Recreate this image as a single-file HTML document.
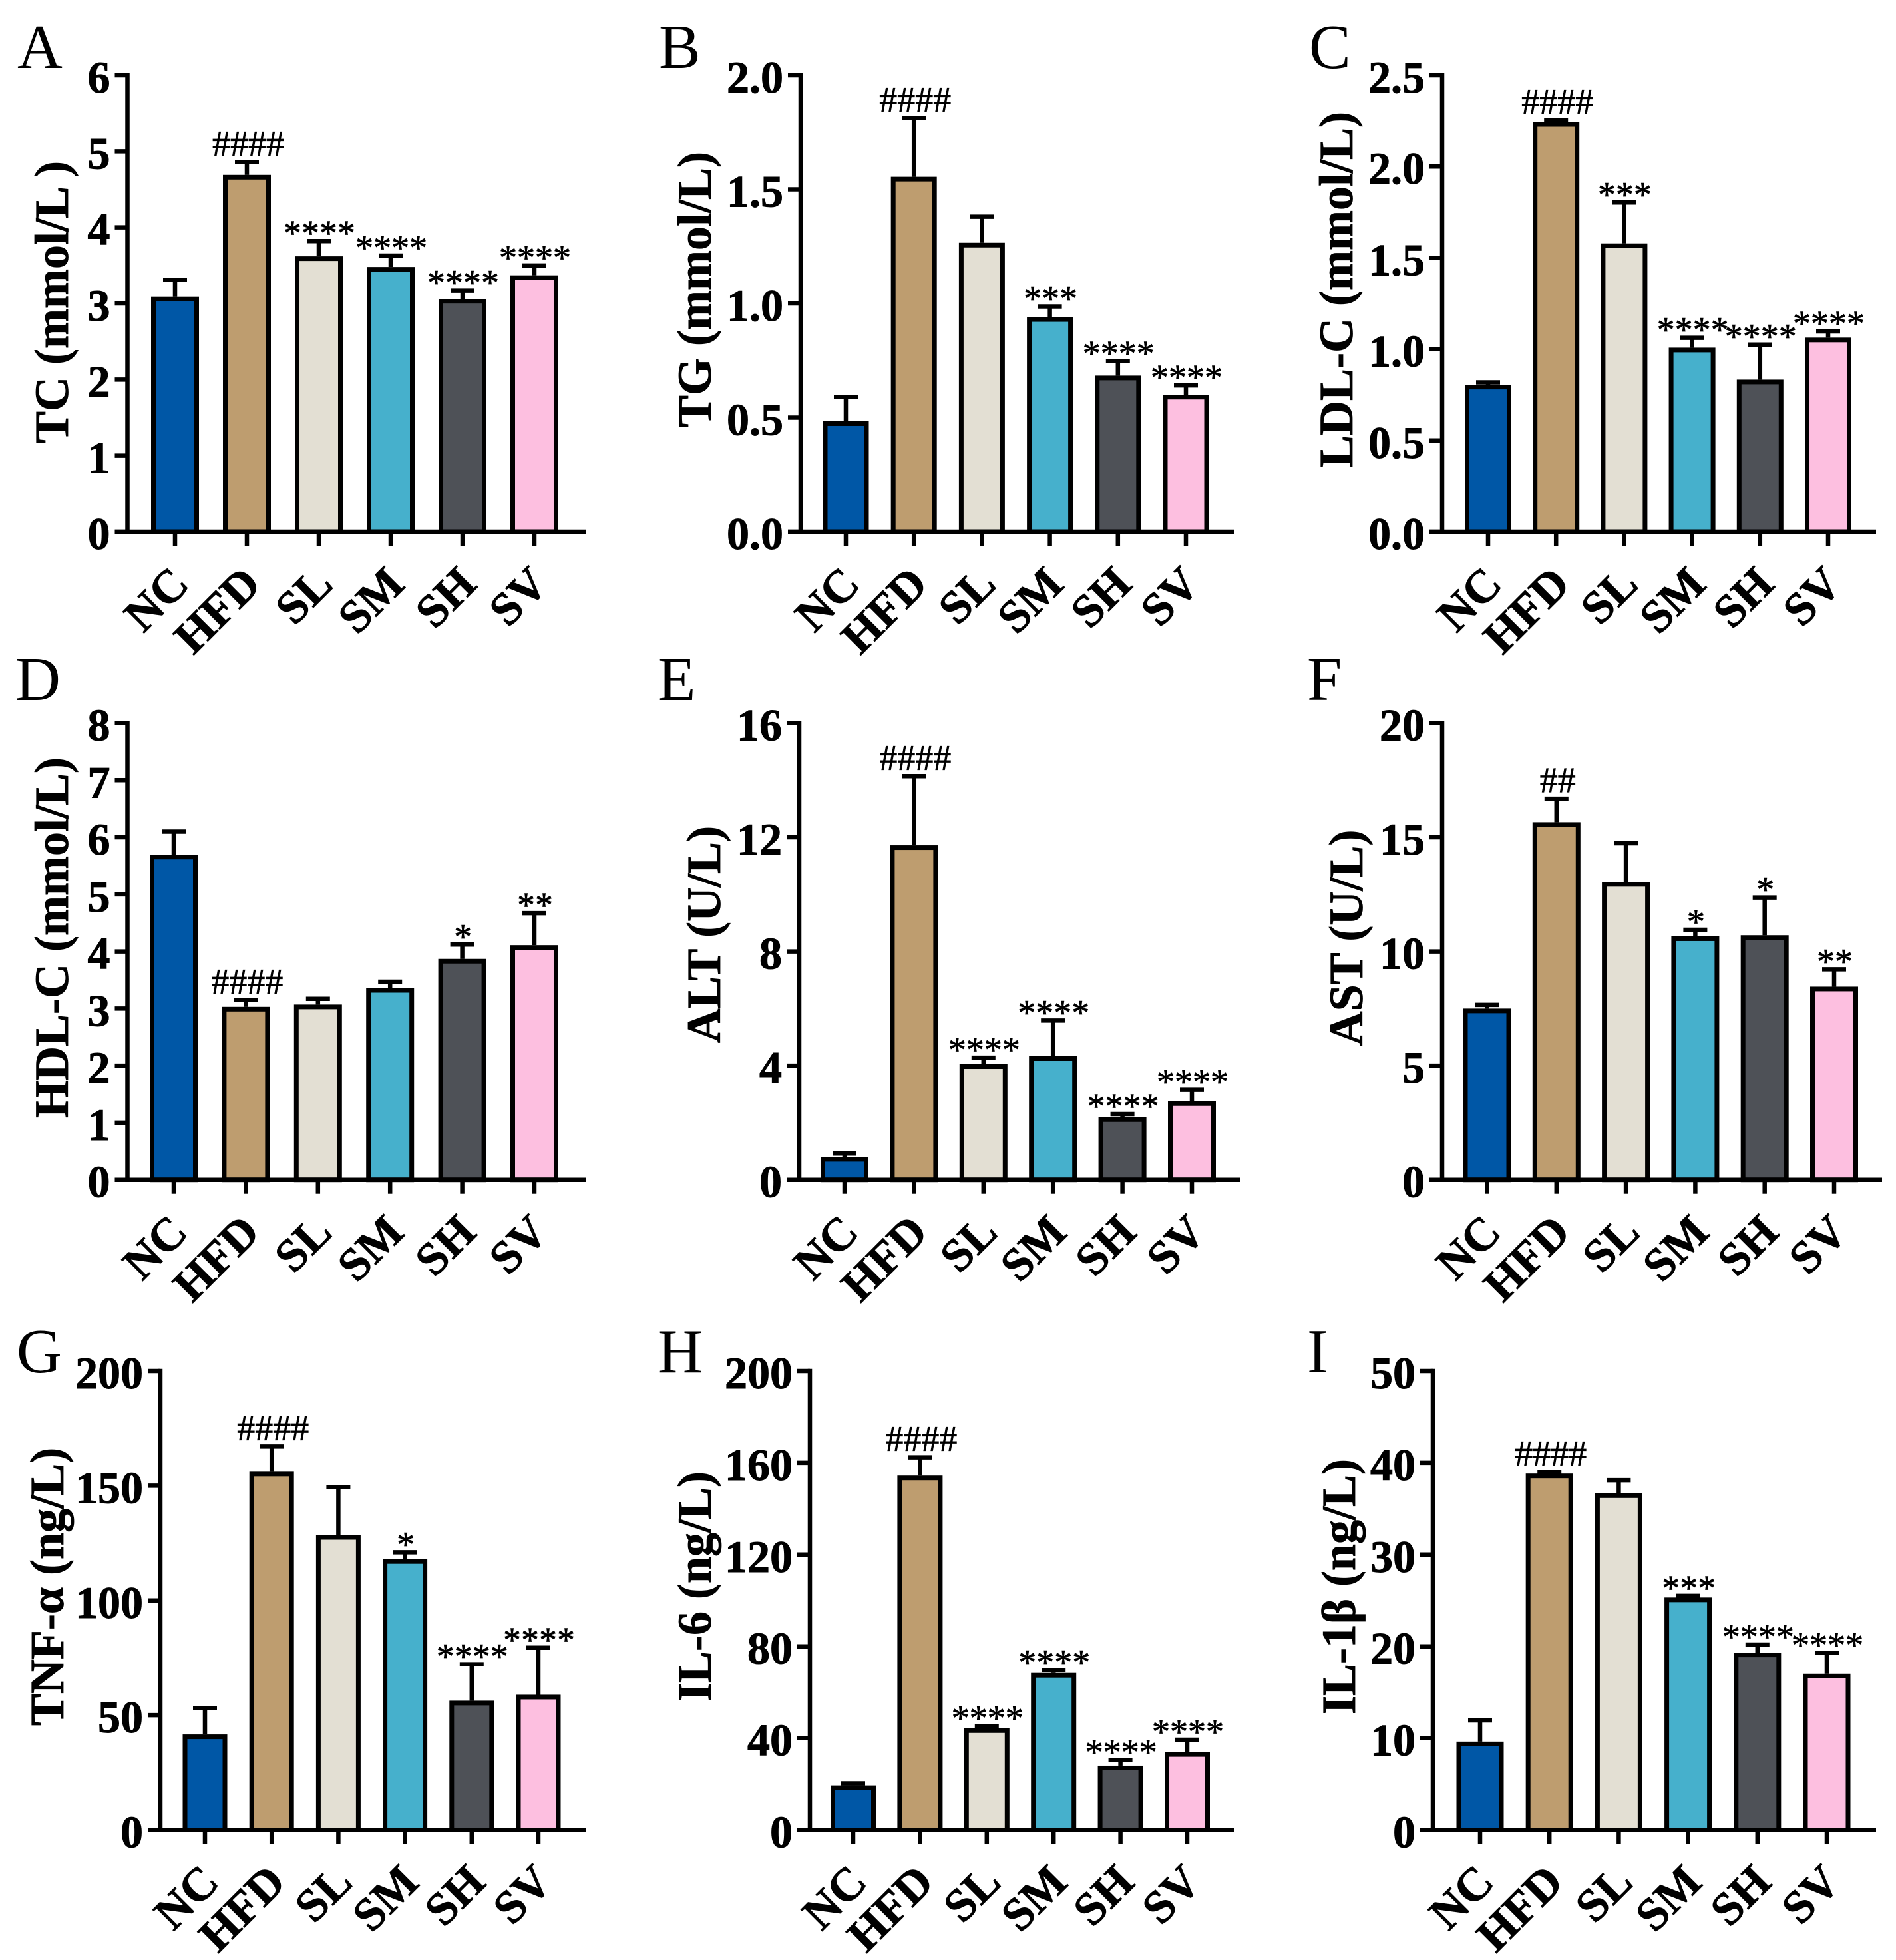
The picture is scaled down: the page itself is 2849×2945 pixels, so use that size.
<!DOCTYPE html>
<html lang="en">
<head>
<meta charset="utf-8">
<title>Serum lipid, liver enzyme and cytokine bar charts</title>
<style>
html,body{margin:0;padding:0;background:#fff;}
svg{display:block;font-family:"Liberation Serif",serif;}
</style>
</head>
<body>
<svg id="figure" xmlns="http://www.w3.org/2000/svg" width="2849" height="2945" viewBox="0 0 2849 2945"></svg>
<script>
const categories = ["NC", "HFD", "SL", "SM", "SH", "SV"];
const barColors = ["#0057A6", "#BE9D6F", "#E3DFD3", "#46B0CC", "#4E5157", "#FDBFE0"];

const tcTicks = ["0", "1", "2", "3", "4", "5", "6"];
const tcValues = [3.09, 4.69, 3.62, 3.48, 3.06, 3.37];
const tcUpper = [3.31, 4.86, 3.82, 3.63, 3.17, 3.50];
const tcMarks = ["", "####", "****", "****", "****", "****"];

const tgTicks = ["0.0", "0.5", "1.0", "1.5", "2.0"];
const tgValues = [0.484, 1.555, 1.266, 0.94, 0.684, 0.6];
const tgUpper = [0.59, 1.812, 1.38, 0.987, 0.747, 0.641];
const tgMarks = ["", "####", "", "***", "****", "****"];

const ldlTicks = ["0.0", "0.5", "1.0", "1.5", "2.0", "2.5"];
const ldlValues = [0.805, 2.243, 1.579, 1.008, 0.833, 1.063];
const ldlUpper = [0.818, 2.254, 1.803, 1.062, 1.025, 1.097];
const ldlMarks = ["", "####", "***", "****", "****", "****"];

const hdlTicks = ["0", "1", "2", "3", "4", "5", "6", "7", "8"];
const hdlValues = [5.695, 3.03, 3.07, 3.36, 3.87, 4.11];
const hdlUpper = [6.10, 3.15, 3.17, 3.47, 4.12, 4.67];
const hdlMarks = ["", "####", "", "", "*", "**"];

const altTicks = ["0", "4", "8", "12", "16"];
const altValues = [0.8, 11.72, 4.05, 4.33, 2.19, 2.75];
const altUpper = [0.92, 14.14, 4.28, 5.58, 2.30, 3.15];
const altMarks = ["", "####", "****", "****", "****", "****"];

const astTicks = ["0", "5", "10", "15", "20"];
const astValues = [7.5, 15.66, 13.04, 10.66, 10.71, 8.46];
const astUpper = [7.66, 16.69, 14.74, 10.95, 12.36, 9.22];
const astMarks = ["", "##", "", "*", "*", "**"];

const tnfTicks = ["0", "50", "100", "150", "200"];
const tnfValues = [41.6, 156.1, 128.5, 118, 56.3, 58.9];
const tnfUpper = [53.1, 167.1, 149.3, 121, 72.2, 79.4];
const tnfMarks = ["", "####", "", "*", "****", "****"];

const il6Ticks = ["0", "40", "80", "120", "160", "200"];
const il6Values = [19.4, 154.4, 44.3, 68.4, 28, 33.9];
const il6Upper = [20.3, 162.4, 45.3, 69.6, 30.4, 39.3];
const il6Marks = ["", "####", "****", "****", "****", "****"];

const il1Ticks = ["0", "10", "20", "30", "40", "50"];
const il1Values = [9.62, 38.82, 36.67, 25.32, 19.32, 17.02];
const il1Upper = [11.93, 39.0, 38.1, 25.5, 20.2, 19.3];
const il1Marks = ["", "####", "", "***", "****", "****"];

const panels = [
  {id:"a", letter:"A", lx:26, ly:102, title:"TC (mmol/L )", tx:102, ty:454, x0:191.5, xEnd:880, first:263, step:108, w:72, top:113, base:799, ticks:tcTicks, values:tcValues, upper:tcUpper, marks:tcMarks},
  {id:"b", letter:"B", lx:990, ly:102, title:"TG (mmol/L)", tx:1068, ty:435, x0:1203, xEnd:1854, first:1271, step:102.2, w:69, top:113, base:799, ticks:tgTicks, values:tgValues, upper:tgUpper, marks:tgMarks},
  {id:"c", letter:"C", lx:1967, ly:102, title:"LDL-C (mmol/L)", tx:2032, ty:435, x0:2167, xEnd:2819, first:2236, step:102.2, w:70, top:113, base:799, ticks:ldlTicks, values:ldlValues, upper:ldlUpper, marks:ldlMarks},
  {id:"d", letter:"D", lx:23, ly:1052, title:"HDL-C (mmol/L)", tx:102, ty:1409, x0:191.5, xEnd:880, first:261, step:108.4, w:72, top:1086.5, base:1772.7, ticks:hdlTicks, values:hdlValues, upper:hdlUpper, marks:hdlMarks},
  {id:"e", letter:"E", lx:988, ly:1052, title:"ALT (U/L)", tx:1082, ty:1404, x0:1201, xEnd:1864, first:1269, step:104.4, w:72, top:1086.5, base:1772.7, ticks:altTicks, values:altValues, upper:altUpper, marks:altMarks},
  {id:"f", letter:"F", lx:1964, ly:1052, title:"AST (U/L)", tx:2047, ty:1409, x0:2167, xEnd:2828, first:2234.5, step:104.3, w:72, top:1086.5, base:1772.7, ticks:astTicks, values:astValues, upper:astUpper, marks:astMarks},
  {id:"g", letter:"G", lx:25, ly:2062, title:"TNF-α (ng/L)", tx:95, ty:2384, x0:241, xEnd:880, first:308, step:100.2, w:67, top:2060, base:2749.5, ticks:tnfTicks, values:tnfValues, upper:tnfUpper, marks:tnfMarks},
  {id:"h", letter:"H", lx:988, ly:2062, title:"IL-6 (ng/L)", tx:1068, ty:2384, x0:1217, xEnd:1854, first:1282, step:100.4, w:68, top:2060, base:2749.5, ticks:il6Ticks, values:il6Values, upper:il6Upper, marks:il6Marks},
  {id:"i", letter:"I", lx:1964, ly:2062, title:"IL-1β (ng/L)", tx:2036, ty:2384, x0:2153, xEnd:2819, first:2224, step:104.2, w:71, top:2060, base:2749.5, ticks:il1Ticks, values:il1Values, upper:il1Upper, marks:il1Marks}
];

const SVG_NS = "http://www.w3.org/2000/svg";
const root = document.getElementById("figure");
const STROKE = 6.5;
const BAR_STROKE = 7;

function make(tag, parent, attrs) {
  const el = document.createElementNS(SVG_NS, tag);
  for (const k in attrs) el.setAttribute(k, attrs[k]);
  parent.appendChild(el);
  return el;
}

function line(parent, x1, y1, x2, y2) {
  return make("line", parent, {x1, y1, x2, y2, stroke:"#000", "stroke-width":STROKE});
}

panels.forEach(function (p) {
  const yMax = parseFloat(p.ticks[p.ticks.length - 1]);
  const yScale = function (v) { return p.base - (v / yMax) * (p.base - p.top); };
  const xScale = function (i) { return p.first + i * p.step; };

  const g = make("g", root, {});
  
  

  const letter = make("text", g, {x:p.lx, y:p.ly, "font-size":94, fill:"#000"});
  
  
  letter.textContent = p.letter;

  const title = make("text", g, {x:p.tx, y:p.ty, "font-size":72, "font-weight":"bold", "text-anchor":"middle", stroke:"#000", "stroke-width":0.8, transform:"rotate(-90 " + p.tx + " " + p.ty + ")", fill:"#000"});
  
  
  title.textContent = p.title;

  p.values.forEach(function (v, i) {
    const cx = xScale(i);
    const yTop = yScale(v);
    const yErr = yScale(p.upper[i]);

    const errLine = line(g, cx, yTop, cx, yErr);
    
    

    const errCap = line(g, cx - 18, yErr, cx + 18, yErr);
    
    

    const bar = make("rect", g, {x:cx - p.w / 2 + BAR_STROKE / 2, y:yTop + BAR_STROKE / 2, width:p.w - BAR_STROKE, height:p.base - yTop - BAR_STROKE / 2, fill:barColors[i], stroke:"#000", "stroke-width":BAR_STROKE});
    
    

    const mark = p.marks[i];
    if (mark) {
      const isHash = mark.charAt(0) === "#";
      const my = isHash ? yErr - 10 : yErr + 6;
      const t = make("text", g, {x:isHash ? cx + 2 : cx + 1, y:my, "font-size":54, "text-anchor":"middle", stroke:"#000", "stroke-width":0.7, fill:"#000"});
      
      
      t.textContent = mark;
    }

    const xTick = line(g, cx, p.base, cx, p.base + 21);
    
    

    const lx = cx + 24;
    const ly = p.base + 82;
    const lab = make("text", g, {x:lx, y:ly, "font-size":70, "font-weight":"bold", "text-anchor":"end", stroke:"#000", "stroke-width":0.8, transform:"rotate(-45 " + lx + " " + ly + ")", fill:"#000"});
    
    
    lab.textContent = categories[i];
  });

  p.ticks.forEach(function (label) {
    const y = yScale(parseFloat(label));
    const tick = line(g, p.x0 - 19, y, p.x0, y);
    
    

    const t = make("text", g, {x:p.x0 - 26, y:y + 26, "font-size":68, "font-weight":"bold", "text-anchor":"end", stroke:"#000", "stroke-width":1, fill:"#000"});
    
    
    t.textContent = label;
  });

  const yAxis = line(g, p.x0, p.top - STROKE / 2, p.x0, p.base + STROKE / 2);
  
  

  const xAxis = line(g, p.x0 - 19, p.base, p.xEnd, p.base);
  
  
});
</script>
</body>
</html>
